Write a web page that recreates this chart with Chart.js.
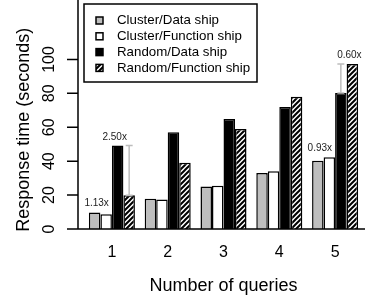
<!DOCTYPE html>
<html>
<head>
<meta charset="utf-8">
<script src="https://cdn.jsdelivr.net/npm/chart.js@4.4.0/dist/chart.umd.min.js"></script>
<style>
  html, body { margin: 0; padding: 0; background: #fff; }
</style>
</head>
<body>
<canvas id="chart" width="371" height="298"></canvas>
<script>
"use strict";

const queries = ['1', '2', '3', '4', '5'];
const series_names = ['Cluster/Data ship', 'Cluster/Function ship', 'Random/Data ship', 'Random/Function ship'];
const cluster_data = [9.7, 17.9, 25.0, 33.0, 40.3];
const cluster_function = [8.7, 17.4, 25.5, 34.0, 42.3];
const random_data = [49.3, 57.0, 64.8, 72.0, 80.2];
const random_function = [19.9, 39.0, 59.0, 78.0, 97.3];
const y_ticks = [0, 20, 40, 60, 80, 100];
// [text, query index, pair of series]
const ratio_notes = [
  ['1.13x', 0, 'cluster'],
  ['2.50x', 0, 'random'],
  ['0.93x', 4, 'cluster'],
  ['0.60x', 4, 'random'],
];

const font_family = '"Liberation Sans", Arial, Helvetica, sans-serif';

function make_hatch() {
  const c = document.createElement('canvas');
  const s = 5;
  c.width = s;
  c.height = s;
  const ctx = c.getContext('2d');
  ctx.fillStyle = '#ffffff';
  ctx.fillRect(0, 0, s, s);
  ctx.strokeStyle = '#000000';
  ctx.lineWidth = 2;
  ctx.beginPath();
  ctx.moveTo(-1, s + 1);
  ctx.lineTo(s + 1, -1);
  ctx.moveTo(-1, 1);
  ctx.lineTo(1, -1);
  ctx.moveTo(s - 1, s + 1);
  ctx.lineTo(s + 1, s - 1);
  ctx.stroke();
  return ctx.createPattern(c, 'repeat');
}

const fills = ['#bebebe', '#ffffff', '#000000', make_hatch()];
const values = [cluster_data, cluster_function, random_data, random_function];

const axis_x = 78;

const extras = {
  id: 'extras',
  afterDatasetsDraw(chart) {
    const ctx = chart.ctx;
    const area = chart.chartArea;
    const y = chart.scales.y;
    ctx.save();

    // axes
    ctx.strokeStyle = '#000000';
    ctx.lineWidth = 1.5;
    ctx.beginPath();
    ctx.moveTo(axis_x, 0);
    ctx.lineTo(axis_x, y.getPixelForValue(0));
    y_ticks.forEach(v => {
      const py = y.getPixelForValue(v);
      ctx.moveTo(axis_x - 11, py);
      ctx.lineTo(axis_x, py);
    });
    ctx.moveTo(axis_x - 11, y.getPixelForValue(0));
    ctx.lineTo(area.right + 2, y.getPixelForValue(0));
    ctx.stroke();

    // ratio notes
    const bar = (d, i) => chart.getDatasetMeta(d).data[i];
    ctx.font = '10px ' + font_family;
    ctx.fillStyle = '#222222';
    ctx.textAlign = 'center';
    ctx.textBaseline = 'middle';
    ratio_notes.forEach(([text, i, pair]) => {
      if (pair === 'cluster') {
        const a = bar(0, i), b = bar(1, i);
        ctx.fillText(text, a.x + 2, Math.min(a.y, b.y) - 9);
      } else {
        const a = bar(2, i), b = bar(3, i);
        const tall = a.y < b.y ? a : b;
        const low = a.y < b.y ? b : a;
        ctx.fillText(text, tall.x - 3, tall.y - 8.5);
        ctx.strokeStyle = '#bdbdbd';
        ctx.lineWidth = 1.5;
        ctx.beginPath();
        ctx.moveTo(low.x, low.y);
        ctx.lineTo(low.x, tall.y);
        ctx.moveTo(low.x - 3.5, tall.y);
        ctx.lineTo(low.x + 3.5, tall.y);
        ctx.moveTo(low.x - 3.5, low.y);
        ctx.lineTo(low.x + 3.5, low.y);
        ctx.stroke();
      }
    });

    // legend
    ctx.strokeStyle = '#000000';
    ctx.lineWidth = 1.5;
    ctx.fillStyle = '#ffffff';
    ctx.fillRect(84, 4, 173, 78);
    ctx.strokeRect(84, 4, 173, 78);
    ctx.font = '13.3px ' + font_family;
    ctx.textAlign = 'left';
    ctx.textBaseline = 'middle';
    series_names.forEach((name, k) => {
      const ry = 20.5 + k * 15.8;
      ctx.fillStyle = fills[k];
      ctx.fillRect(96, ry - 3.5, 7, 7);
      ctx.strokeRect(96, ry - 3.5, 7, 7);
      ctx.fillStyle = '#000000';
      ctx.fillText(name, 117, ry);
    });

    ctx.restore();
  }
};

new Chart(document.getElementById('chart'), {
  type: 'bar',
  data: {
    labels: queries,
    datasets: series_names.map((name, k) => ({
      label: name,
      data: values[k],
      backgroundColor: fills[k],
      borderColor: '#000000',
      borderWidth: 1.5,
      categoryPercentage: 0.825,
      barPercentage: 1.0,
    })),
  },
  options: {
    responsive: false,
    animation: false,
    devicePixelRatio: 1,
    layout: { padding: { top: 0, right: 8, left: 0, bottom: 0 } },
    plugins: {
      legend: { display: false },
      tooltip: { enabled: false },
    },
    scales: {
      x: {
        grid: { display: false, drawTicks: false },
        border: { display: false },
        ticks: {
          color: '#000000',
          font: { family: font_family, size: 16 },
          padding: 14,
        },
        title: {
          display: true,
          text: 'Number of queries',
          color: '#000000',
          font: { family: font_family, size: 18 },
          padding: { top: 0, bottom: 1 },
        },
        afterFit: (s) => { s.height = 69; },
      },
      y: {
        min: 0,
        max: 117,
        grid: { display: false, drawTicks: false },
        border: { display: false },
        afterBuildTicks: (s) => { s.ticks = y_ticks.map(v => ({ value: v })); },
        ticks: {
          color: '#000000',
          font: { family: font_family, size: 16 },
          minRotation: 90,
          maxRotation: 90,
          crossAlign: 'center',
          padding: 21,
        },
        title: {
          display: true,
          text: 'Response time (seconds)',
          color: '#000000',
          font: { family: font_family, size: 18 },
          padding: { top: 13, bottom: 0 },
        },
        afterFit: (s) => { s.width = 84; },
      },
    },
  },
  plugins: [extras],
});
</script>
</body>
</html>
